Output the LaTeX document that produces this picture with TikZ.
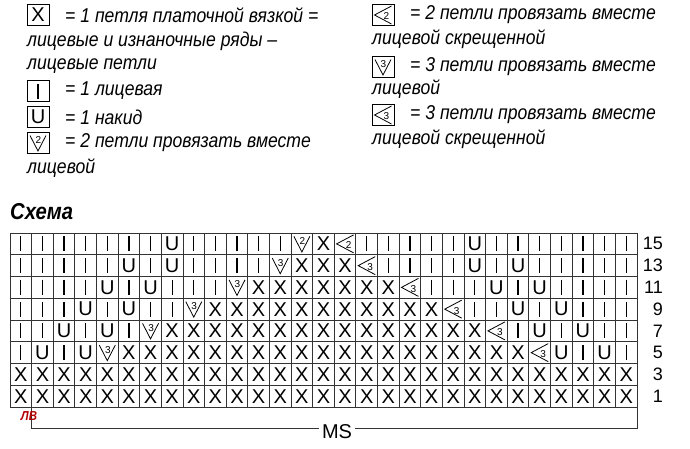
\documentclass[tikz,border=0pt]{standalone}
\usepackage{fontspec}
\setmainfont{Liberation Sans}
\newfontfamily\legfont[FakeStretch=0.88]{Liberation Sans}
\usetikzlibrary{positioning}

% cell size of the chart
\def\cw{21.62}
\def\rh{21.75}

\tikzset{
  legtext/.style={anchor=west, inner sep=0pt, font=\legfont\itshape\fontsize{20}{22}\selectfont},
  cellsym/.style={inner sep=0pt, font=\fontsize{20}{22}\selectfont},
  digit/.style={inner sep=0pt, font=\fontsize{10}{10}\selectfont},
  legbox/.style={draw, line width=0.9pt, minimum width=22pt, minimum height=21pt, inner sep=0pt},
  rowlbl/.style={anchor=east, inner sep=0pt, font=\fontsize{18}{20}\selectfont},
  gridline/.style={line width=0.9pt, black!80},
  pics/symI/.style={code={\draw[line width=1.2pt] (0,-7.5) -- (0,7.5);}},
  pics/symX/.style={code={\node[cellsym] {X};}},
  pics/symU/.style={code={\node[cellsym] {U};}},
  pics/symA/.style={code={\draw[line width=0.8pt] (-8,-7.5) -- (0,8) -- (8,-7.5); \node[digit] at (0.5,-3) {2};}},
  pics/symB/.style={code={\draw[line width=0.8pt] (8.5,-9) -- (-8.5,0) -- (8.5,9); \node[digit] at (3.5,1.5) {2};}},
  pics/symC/.style={code={\draw[line width=0.8pt] (-8,-7.5) -- (0,8) -- (8,-7.5); \node[digit] at (0.5,-3) {3};}},
  pics/symD/.style={code={\draw[line width=0.8pt] (8.5,-9) -- (-8.5,0) -- (8.5,9); \node[digit] at (3.5,1.5) {3};}}
}

\begin{document}
\begin{tikzpicture}[x=1pt, y=-1pt]
\useasboundingbox (0,0) rectangle (690,448);

% legend, left column
\node[legbox] (boxX) at (38,15) {};
\pic at (boxX) {symX};
\node[legtext] at (65,15) {= 1 петля платочной вязкой =};
\node[legtext] at (27,41) {лицевые и изнаночные ряды –};
\node[legtext] at (27,66) {лицевые петли};
\node[legbox] (boxI) at (38,91) {};
\pic at (boxI) {symI};
\node[legtext] at (65,91) {= 1 лицевая};
\node[legbox] (boxU) at (38,117) {};
\pic at (boxU) {symU};
\node[legtext] at (65,117) {= 1 накид};
\node[legbox] (boxA) at (38,143) {};
\pic at (boxA) {symA};
\node[legtext] at (65,143) {= 2 петли провязать вместе};
\node[legtext] at (27,168) {лицевой};

% legend, right column
\node[legbox] (boxB) at (383,15) {};
\pic at (boxB) {symB};
\node[legtext] at (410,15) {= 2 петли провязать вместе};
\node[legtext] at (372,39) {лицевой скрещенной};
\node[legbox] (boxC) at (383,67) {};
\pic at (boxC) {symC};
\node[legtext] at (410,67) {= 3 петли провязать вместе};
\node[legtext] at (372,89) {лицевой};
\node[legbox] (boxD) at (383,115) {};
\pic at (boxD) {symD};
\node[legtext] at (410,115) {= 3 петли провязать вместе};
\node[legtext] at (372,139) {лицевой скрещенной};

% title
\node[anchor=west, inner sep=0pt, font=\legfont\bfseries\itshape\fontsize{23}{28}\selectfont] (title) at (10,212) {Схема};

% grid
\foreach \c in {0,...,29}
  \draw[gridline] ({10+\c*\cw},233) -- ({10+\c*\cw},407);
\foreach \r in {0,...,8}
  \draw[gridline] (10,{233+\r*\rh}) -- (637,{233+\r*\rh});

% symbols, rows 15 down to 1
\foreach \row [count=\r] in {
  {I,I,I,I,I,I,I,U,I,I,I,I,I,A,X,B,I,I,I,I,I,U,I,I,I,I,I,I,I},
  {I,I,I,I,I,U,I,U,I,I,I,I,C,X,X,X,D,I,I,I,I,U,I,U,I,I,I,I,I},
  {I,I,I,I,U,I,U,I,I,I,C,X,X,X,X,X,X,X,D,I,I,I,U,I,U,I,I,I,I},
  {I,I,I,U,I,U,I,I,C,X,X,X,X,X,X,X,X,X,X,X,D,I,I,U,I,U,I,I,I},
  {I,I,U,I,U,I,C,X,X,X,X,X,X,X,X,X,X,X,X,X,X,X,D,I,U,I,U,I,I},
  {I,U,I,U,C,X,X,X,X,X,X,X,X,X,X,X,X,X,X,X,X,X,X,X,D,U,I,U,I},
  {X,X,X,X,X,X,X,X,X,X,X,X,X,X,X,X,X,X,X,X,X,X,X,X,X,X,X,X,X},
  {X,X,X,X,X,X,X,X,X,X,X,X,X,X,X,X,X,X,X,X,X,X,X,X,X,X,X,X,X}}
  \foreach \s [count=\c] in \row
    \pic at ({10+(\c-0.5)*\cw},{233+(\r-0.5)*\rh}) {sym\s};

% row numbers
\foreach \n [count=\r] in {15,13,11,9,7,5,3,1}
  \node[rowlbl] (row\n) at (663,{233+(\r-0.5)*\rh}) {\n};

% pattern repeat bracket
\node[inner sep=3pt, font=\fontsize{20}{22}\selectfont] (ms) at (337,432) {MS};
\coordinate (msL) at ({10+\cw},407);
\coordinate (msR) at (637,407);
\draw[gridline] (msL) -- (msL |- 0,428) -- (ms.west |- 0,428);
\draw[gridline] (ms.east |- 0,428) -- (msR |- 0,428) -- (msR);
\node[red!70!black, inner sep=0pt, font=\legfont\bfseries\itshape\fontsize{13}{13}\selectfont] (mark) at (29,416) {ЛВ};
\end{tikzpicture}
\end{document}
